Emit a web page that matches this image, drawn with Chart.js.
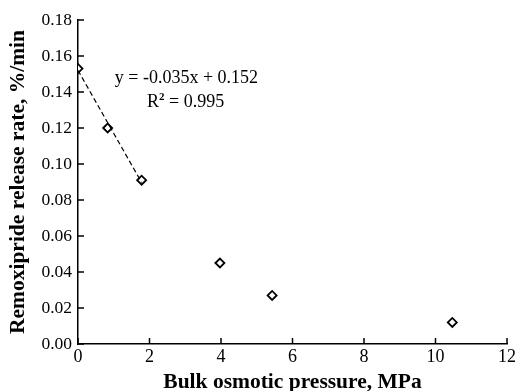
<!DOCTYPE html>
<html>
<head>
<meta charset="utf-8">
<script src="https://cdn.jsdelivr.net/npm/chart.js@4/dist/chart.umd.min.js"></script>
<style>
  html, body { margin: 0; padding: 0; background: #fff; }
  #wrap { width: 518px; height: 391px; }
</style>
</head>
<body>
<div id="wrap"><canvas id="chart"></canvas></div>
<script>
// measured points (bulk osmotic pressure, MPa vs release rate, %/min)
const pressure = [0, 0.83, 1.78, 3.97, 5.43, 10.47];
const releaseRate = [0.153, 0.120, 0.091, 0.045, 0.027, 0.012];

// fitted line endpoints: y = -0.035x + 0.152
const fitX = [0, 1.78];
const fitY = [0.152, 0.0897];

const xTicks = [0, 2, 4, 6, 8, 10, 12];
const yTicks = [0, 0.02, 0.04, 0.06, 0.08, 0.10, 0.12, 0.14, 0.16, 0.18];

const fitText = ['y = -0.035x + 0.152', 'R', '2', ' = 0.995'];

const serif = '"Liberation Serif", "Times New Roman", serif';

// inward tick marks + equation text
const extras = {
    id: 'extras',
    afterDraw(chart) {
        const ctx = chart.ctx;
        const xs = chart.scales.x, ys = chart.scales.y;
        ctx.save();
        ctx.strokeStyle = '#000';
        ctx.lineWidth = 1.5;
        ctx.beginPath();
        xTicks.forEach(v => {
            const px = xs.getPixelForValue(v);
            ctx.moveTo(px, ys.bottom);
            ctx.lineTo(px, ys.bottom - 6);
        });
        yTicks.forEach(v => {
            const py = ys.getPixelForValue(v);
            ctx.moveTo(xs.left, py);
            ctx.lineTo(xs.left + 6, py);
        });
        ctx.stroke();

        ctx.fillStyle = '#000';
        ctx.font = '18px ' + serif;
        ctx.textBaseline = 'alphabetic';
        ctx.textAlign = 'left';
        const tx = xs.getPixelForValue(1.03);
        ctx.fillText(fitText[0], tx, ys.getPixelForValue(0.145));
        let rx = xs.getPixelForValue(1.93);
        const ry = ys.getPixelForValue(0.1317);
        ctx.fillText(fitText[1], rx, ry);
        rx += ctx.measureText(fitText[1]).width;
        ctx.font = 'bold 11px ' + serif;
        ctx.fillText(fitText[2], rx, ry - 7);
        rx += ctx.measureText(fitText[2]).width;
        ctx.font = '18px ' + serif;
        ctx.fillText(fitText[3], rx, ry);
        ctx.restore();
    }
};

new Chart(document.getElementById('chart'), {
    type: 'scatter',
    data: {
        datasets: [
            {
                label: 'fit',
                data: fitX.map((x, i) => ({ x, y: fitY[i] })),
                showLine: true,
                borderColor: '#000',
                borderWidth: 1.2,
                borderDash: [5, 3],
                pointRadius: 0
            },
            {
                label: 'data',
                data: pressure.map((x, i) => ({ x, y: releaseRate[i] })),
                pointStyle: 'rectRot',
                pointRadius: 4.5,
                pointBorderWidth: 1.8,
                pointBorderColor: '#000',
                pointBackgroundColor: '#fff',
                showLine: false
            }
        ]
    },
    options: {
        responsive: true,
        maintainAspectRatio: false,
        animation: false,
        layout: { padding: { top: 20, right: 10, left: 0, bottom: 0 } },
        plugins: {
            legend: { display: false },
            tooltip: { enabled: false }
        },
        scales: {
            x: {
                type: 'linear',
                min: 0, max: 12,
                afterBuildTicks: s => { s.ticks = xTicks.map(v => ({ value: v })); },
                afterFit: s => { s.height = 47; },
                grid: { display: false, drawTicks: false },
                border: { display: true, color: '#000', width: 1.5 },
                ticks: {
                    color: '#000',
                    padding: 2,
                    font: { family: serif, size: 18 },
                    maxRotation: 0,
                    callback: v => String(v)
                },
                title: {
                    display: true,
                    text: 'Bulk osmotic pressure, MPa',
                    color: '#000',
                    font: { family: serif, size: 21.5, weight: 'bold', lineHeight: 1 },
                    padding: { top: 0, bottom: -2 }
                }
            },
            y: {
                type: 'linear',
                min: 0, max: 0.18,
                afterBuildTicks: s => { s.ticks = yTicks.map(v => ({ value: v })); },
                afterFit: s => { s.width = 78; },
                grid: { display: false, drawTicks: false },
                border: { display: true, color: '#000', width: 1.5 },
                ticks: {
                    color: '#000',
                    padding: 6,
                    font: { family: serif, size: 17.5 },
                    callback: v => v.toFixed(2)
                },
                title: {
                    display: true,
                    text: 'Remoxipride release rate, %/min',
                    color: '#000',
                    font: { family: serif, size: 21.5, weight: 'bold', lineHeight: 1 },
                    padding: { top: 8, bottom: 0 }
                }
            }
        }
    },
    plugins: [extras]
});
</script>
</body>
</html>
